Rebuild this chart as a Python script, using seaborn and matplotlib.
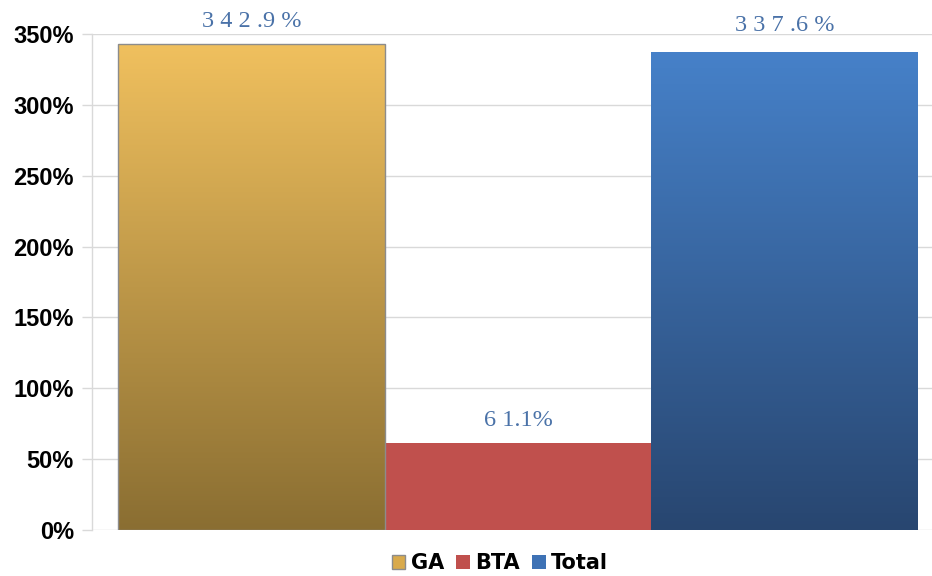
import numpy as np
import pandas as pd
import matplotlib
matplotlib.use("Agg")
import matplotlib.pyplot as plt
import seaborn as sns
from matplotlib.colors import LinearSegmentedColormap
from matplotlib.patches import Patch

series = ["GA", "BTA", "Total"]
values = [342.9, 61.1, 337.6]
value_labels = ["3 4 2 .9 %", "6 1.1%", "3 3 7 .6 %"]
yticks = [0, 50, 100, 150, 200, 250, 300, 350]
ytick_labels = ["0%", "50%", "100%", "150%", "200%", "250%", "300%", "350%"]

top_colors = ["#F0C05E", "#C0504D", "#4681C9"]
bottom_colors = ["#8A6E32", "#C0504D", "#284670"]

sns.set_theme(style="white")
fig = plt.figure(figsize=(9.32, 5.76), dpi=100)
ax = fig.add_axes([92/932, 1-530/576, 1-92/932, (530-34)/576])

df = pd.DataFrame({"series": series, "value": values})
sns.barplot(data=df, x="series", y="value", hue="series", palette=top_colors,
            width=1.0, dodge=False, legend=False, ax=ax, saturation=1)

bars = list(ax.patches)
for i, p in enumerate(bars):
    x0, y0 = p.get_x(), p.get_y()
    w, h = p.get_width(), p.get_height()
    if top_colors[i] != bottom_colors[i]:
        cmap = LinearSegmentedColormap.from_list("g%d" % i, [bottom_colors[i], top_colors[i]])
        grad = np.linspace(0, 1, 256).reshape(-1, 1)
        im = ax.imshow(grad, cmap=cmap, origin="lower", aspect="auto",
                       extent=[x0, x0 + w, y0, y0 + h], zorder=p.get_zorder() + 0.1)
        im.set_clip_path(p)
    if i == 0:
        edge = plt.Rectangle((x0, y0), w, h, fill=False, edgecolor="#8C8C8C",
                             linewidth=1.0, zorder=p.get_zorder() + 0.2)
        ax.add_patch(edge)
    p.set_edgecolor("none")

offsets = [9, 9, 11]
for i, p in enumerate(bars):
    ax.annotate(value_labels[i], (p.get_x() + p.get_width()/2, p.get_height()),
                xytext=(0, offsets[i]), textcoords="offset points",
                ha="center", va="bottom", fontsize=17.5, color="#4A72A8",
                family="Liberation Serif", zorder=5)

ax.set_xlim(-0.5 - 26/266.7, 2.5 + 14/266.7)
ax.set_ylim(0, 350)
ax.set_yticks(yticks)
ax.set_yticklabels(ytick_labels, fontsize=17, fontweight="bold",
                   family="Liberation Sans", color="black")
ax.set_xticks([])
ax.set_xlabel("")
ax.set_ylabel("")
ax.yaxis.grid(True, color="#D9D9D9", linewidth=1.0)
ax.set_axisbelow(True)
for s in ["top", "right", "bottom"]:
    ax.spines[s].set_visible(False)
ax.spines["left"].set_color("#D9D9D9")
ax.spines["left"].set_linewidth(1.0)
ax.tick_params(axis="y", which="both", left=True, length=7, width=1.0,
               color="#D9D9D9", pad=6)

handles = [Patch(facecolor=c, edgecolor="#8C8C8C" if i == 0 else "none")
           for i, c in enumerate(["#D9AA4C", "#C0504D", "#3E72B5"])]
leg = fig.legend(handles, series, loc="center", bbox_to_anchor=(500/932, 1-563/576),
                 ncol=3, frameon=False, handlelength=0.65, handleheight=0.65,
                 handletextpad=0.25, columnspacing=0.6, labelcolor="black",
                 prop={"family": "DejaVu Sans", "weight": "bold", "size": 15})

fig.savefig("out.png", dpi=100)
